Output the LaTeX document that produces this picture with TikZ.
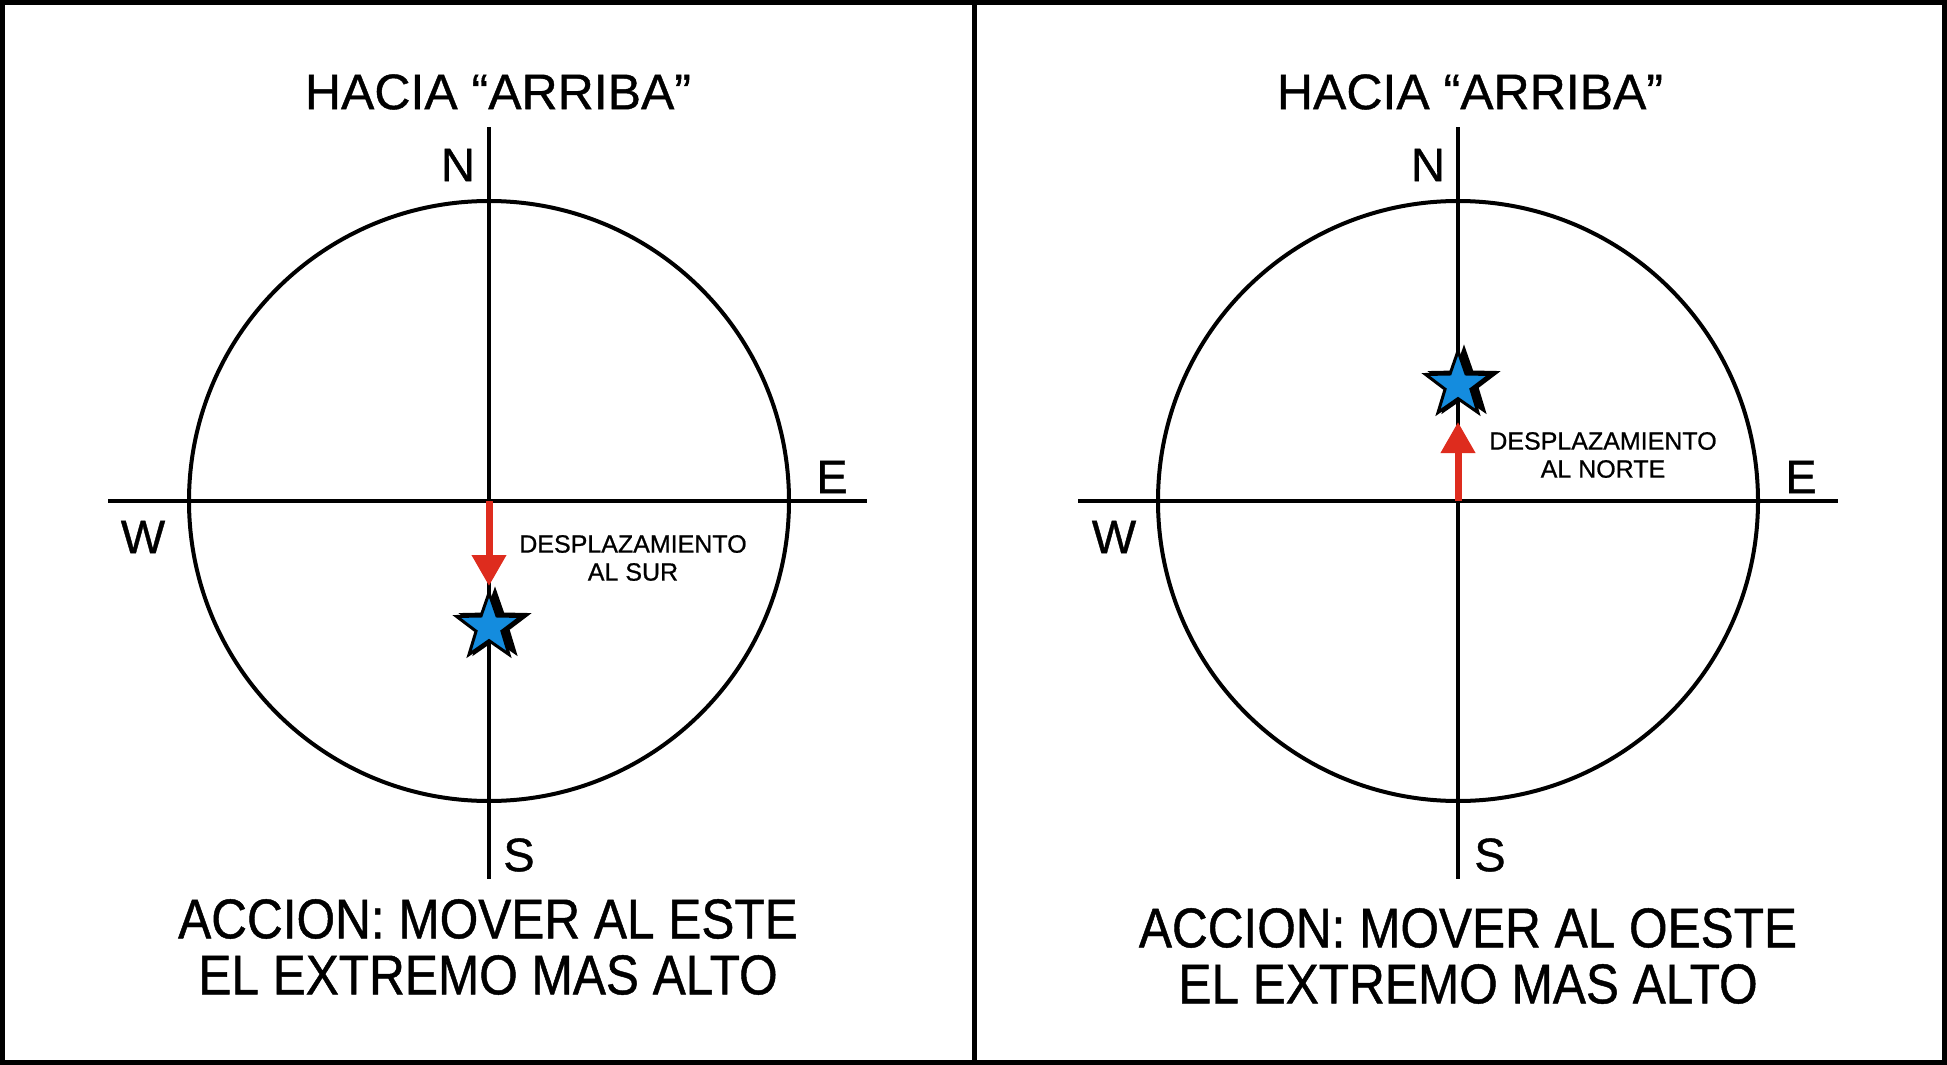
\documentclass[tikz,border=0pt]{standalone}
\usepackage{fontspec}
\setmainfont{Liberation Sans}[FakeBold=0.8]
\newfontfamily\condfont{Liberation Sans}[FakeStretch=0.885,FakeBold=0.8]
\usepackage{xcolor}
\definecolor{starblue}{RGB}{20,140,222}
\definecolor{moved}{RGB}{222,44,30}
\usepackage{tikz}
\usetikzlibrary{positioning,shapes.geometric,arrows.meta}
\tikzstyle{frameline}=[line width=5pt, black]
\tikzstyle{axisline}=[line width=4pt, black]
\tikzstyle{ring}=[circle, draw=black, line width=4pt, minimum size=600pt, inner sep=0pt]
\tikzstyle{cardinal}=[inner sep=0pt, font=\fontsize{47}{47}\selectfont]
\tikzstyle{heading}=[inner sep=0pt, font=\fontsize{50}{50}\selectfont]
\tikzstyle{action}=[inner sep=0pt, align=center, font=\condfont\fontsize{56}{56}\selectfont]
\tikzstyle{shiftlabel}=[inner sep=0pt, align=center, font=\fontsize{25}{28}\selectfont]
\tikzstyle{starnode}=[star, star points=5, star point ratio=2.5, minimum size=68pt, inner sep=0pt,
        draw=black, line width=3pt, fill=starblue]
\tikzstyle{starshadow}=[starnode, fill=black]
\tikzstyle{moveline}=[line width=7pt, moved, -{Triangle[width=33pt,length=31pt]}]
\newcommand{\shadowstar}[2]{
\node (#1shadow) [starshadow] at ([xshift=6pt,yshift=2pt]#2) {};
\node (#1) [starnode] at (#2) {};}

\begin{document}
\begin{tikzpicture}[x=1pt,y=-1pt]
\useasboundingbox (0,0) rectangle (1947,1065);

% frame and divider
\draw[frameline] (2.5,2.5) rectangle (1944.5,1062.5);
\coordinate (divtop) at (974,2.5);
\coordinate (divbot) at (974,1062.5);
\draw[frameline] (divtop) -- (divbot);

% left panel
\coordinate (cL) at (489,501);
\node (ringL) [ring] at (cL) {};
\coordinate (westL) at (108,501);
\coordinate (eastL) at (867,501);
\coordinate (northL) at (489,127);
\coordinate (southL) at (489,879);
\draw[axisline] (westL) -- (eastL);
\draw[axisline] (northL) -- (southL);
\node (headL) [heading] at (498,92) {HACIA “ARRIBA”};
\node (NL) [cardinal] at (458,165) {N};
\node (EL) [cardinal] at (832,477) {E};
\node (WL) [cardinal] at (143,537) {W};
\node (SL) [cardinal] at (519,855) {S};
\shadowstar{starL}{489,627}
\coordinate (tipL) at (489,586);
\draw[moveline] (cL) -- (tipL);
\node (shiftL) [shiftlabel] at (633,558) {DESPLAZAMIENTO\\AL SUR};
\node (actL) [action] at (488,947) {ACCION: MOVER AL ESTE\\EL EXTREMO MAS ALTO};

% right panel
\coordinate (cR) at (1458,501);
\node (ringR) [ring] at (cR) {};
\coordinate (westR) at (1078,501);
\coordinate (eastR) at (1838,501);
\coordinate (northR) at (1458,127);
\coordinate (southR) at (1458,879);
\draw[axisline] (westR) -- (eastR);
\draw[axisline] (northR) -- (southR);
\node (headR) [heading] at (1470,92) {HACIA “ARRIBA”};
\node (NR) [cardinal] at (1428,165) {N};
\node (ER) [cardinal] at (1801,477) {E};
\node (WR) [cardinal] at (1114,537) {W};
\node (SR) [cardinal] at (1490,855) {S};
\shadowstar{starR}{1458,385}
\coordinate (tipR) at (1458,422);
\draw[moveline] (cR) -- (tipR);
\node (shiftR) [shiftlabel] at (1603,455) {DESPLAZAMIENTO\\AL NORTE};
\node (actR) [action] at (1468,956) {ACCION: MOVER AL OESTE\\EL EXTREMO MAS ALTO};

\end{tikzpicture}
\end{document}
